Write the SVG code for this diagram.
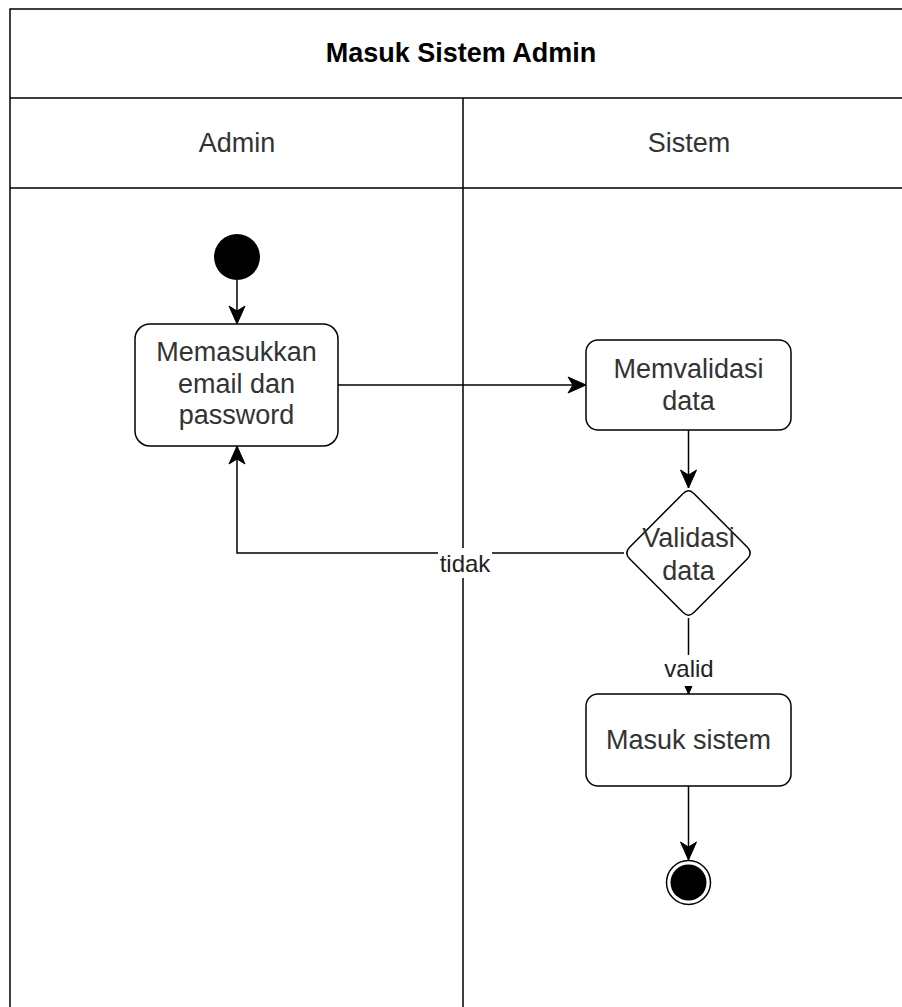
<svg xmlns="http://www.w3.org/2000/svg" width="902" height="1007" viewBox="0 0 902 1007">
<style>
.frame{fill:none;stroke:#000;stroke-width:1.5}
.node{fill:#fff;stroke:#000;stroke-width:1.5}
.edge{fill:none;stroke:#000;stroke-width:1.5}
.t{font-family:"Liberation Sans",Arial,Helvetica,sans-serif;font-size:27px;fill:#333;text-anchor:middle}
.b{font-weight:bold;fill:#000}
.lbl{font-family:"Liberation Sans",Arial,Helvetica,sans-serif;font-size:24px;fill:#222;text-anchor:middle}
</style>
<defs>
<marker id="arr" markerUnits="userSpaceOnUse" viewBox="0 0 20 18" refX="19" refY="9" markerWidth="20" markerHeight="18" orient="auto">
<path d="M19,9 L1,1 L6,9 L1,17 Z" fill="#000" stroke="#000" stroke-width="1"/>
</marker>
</defs>
<rect width="902" height="1007" fill="#fff"/>
<g id="pool">
<path class="frame" d="M10,1010 L10,9 L920,9 M10,98 L920,98 M10,188 L920,188 M463,98 L463,1010"/>
<text class="t b" x="461" y="62">Masuk Sistem Admin</text>
<text class="t" x="237" y="152">Admin</text>
<text class="t" x="689" y="152">Sistem</text>
</g>
<g id="connectors">
<line class="edge" x1="237" y1="280" x2="237" y2="324" marker-end="url(#arr)"/>
<line class="edge" x1="338" y1="385" x2="586" y2="385" marker-end="url(#arr)"/>
<line class="edge" x1="688.5" y1="430" x2="688.5" y2="488" marker-end="url(#arr)"/>
<polyline class="edge" points="624,553 237,553 237,446" marker-end="url(#arr)"/>
<line class="edge" x1="688.5" y1="618" x2="688.5" y2="694" marker-end="url(#arr)"/>
<line class="edge" x1="688.5" y1="786" x2="688.5" y2="860" marker-end="url(#arr)"/>
<rect x="438" y="548" width="54" height="30" fill="#fff"/>
<text class="lbl" x="465" y="572">tidak</text>
<rect x="664" y="655" width="50" height="31" fill="#fff"/>
<text class="lbl" x="689" y="677">valid</text>
</g>
<g id="start">
<circle cx="237" cy="257" r="23" fill="#000"/>
</g>
<g id="input">
<rect class="node" x="135" y="324" width="203" height="122" rx="15"/>
<text class="t" x="236.5" y="361">Memasukkan</text>
<text class="t" x="236.5" y="393">email dan</text>
<text class="t" x="236.5" y="424">password</text>
</g>
<g id="validate">
<rect class="node" x="586" y="340" width="205" height="90" rx="12"/>
<text class="t" x="688.5" y="378">Memvalidasi</text>
<text class="t" x="688.5" y="410">data</text>
</g>
<g id="decision">
<path class="node" d="M682.9,493.7 Q688.5,488 694.1,493.7 L747.4,547.3 Q753,553 747.4,558.7 L694.1,612.3 Q688.5,618 682.9,612.3 L629.6,558.7 Q624,553 629.6,547.3 Z"/>
<text class="t" x="688.5" y="547">Validasi</text>
<text class="t" x="688.5" y="580">data</text>
</g>
<g id="enter">
<rect class="node" x="586" y="694" width="205" height="92" rx="12"/>
<text class="t" x="688.5" y="749">Masuk sistem</text>
</g>
<g id="end">
<circle cx="688.5" cy="882.5" r="22" fill="#fff" stroke="#000" stroke-width="1.5"/>
<circle cx="688.5" cy="882.5" r="18" fill="#000"/>
</g>
</svg>
